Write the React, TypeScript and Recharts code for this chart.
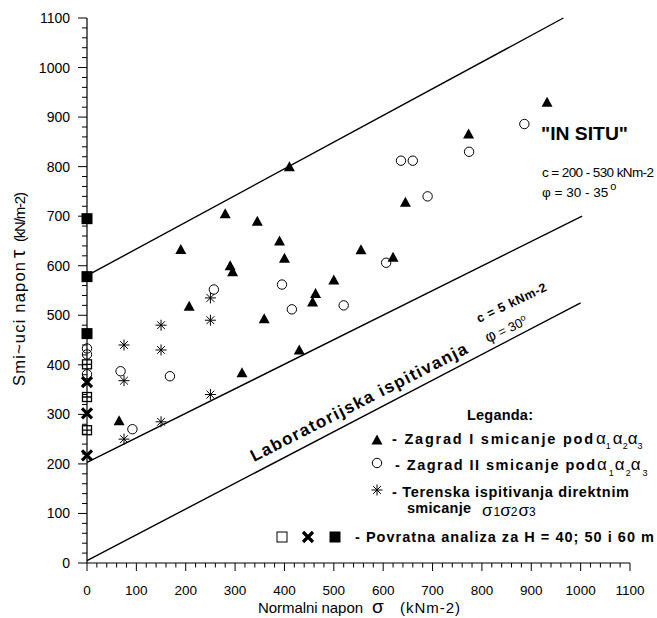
import React from 'react';
import { ScatterChart, Scatter, XAxis, YAxis, ReferenceLine } from 'recharts';

const MAJOR_TICKS = [0, 100, 200, 300, 400, 500, 600, 700, 800, 900, 1000, 1100];
const MINOR_STEPS = [0, 20, 40, 60, 80];
const ALL_TICKS = MAJOR_TICKS.flatMap((t, i) =>
  i < MAJOR_TICKS.length - 1 ? MINOR_STEPS.map((s) => t + s) : [t]
);

// Zagrad I (triangles)
const ZAGRAD_I = [
  { x: 65, y: 287 }, { x: 190, y: 633 }, { x: 207, y: 518 }, { x: 280, y: 705 },
  { x: 290, y: 600 }, { x: 295, y: 588 }, { x: 314, y: 384 }, { x: 345, y: 690 },
  { x: 359, y: 493 }, { x: 390, y: 650 }, { x: 400, y: 615 }, { x: 410, y: 800 },
  { x: 430, y: 430 }, { x: 457, y: 527 }, { x: 463, y: 544 }, { x: 500, y: 571 },
  { x: 555, y: 632 }, { x: 620, y: 617 }, { x: 645, y: 728 }, { x: 773, y: 866 },
  { x: 932, y: 930 },
];

// Zagrad II (circles)
const ZAGRAD_II = [
  { x: 0, y: 433 }, { x: 0, y: 421 }, { x: 0, y: 381 }, { x: 68, y: 387 },
  { x: 92, y: 270 }, { x: 168, y: 377 }, { x: 257, y: 552 }, { x: 395, y: 562 },
  { x: 415, y: 512 }, { x: 520, y: 520 }, { x: 606, y: 606 }, { x: 636, y: 812 },
  { x: 660, y: 812 }, { x: 690, y: 740 }, { x: 774, y: 830 }, { x: 886, y: 886 },
];

// Terenska ispitivanja (asterisks)
const TERENSKA = [
  { x: 75, y: 250 }, { x: 75, y: 368 }, { x: 75, y: 440 }, { x: 150, y: 285 },
  { x: 150, y: 430 }, { x: 150, y: 480 }, { x: 250, y: 340 }, { x: 250, y: 490 },
  { x: 250, y: 535 },
];

// Povratna analiza H = 40 / 50 / 60 m
const POVRATNA_40 = [{ x: 0, y: 268 }, { x: 0, y: 335 }, { x: 0, y: 401 }];
const POVRATNA_50 = [{ x: 0, y: 217 }, { x: 0, y: 302 }, { x: 0, y: 365 }];
const POVRATNA_60 = [{ x: 0, y: 463 }, { x: 0, y: 578 }, { x: 0, y: 695 }];

// Envelope lines
const IN_SITU_UPPER = [{ x: 0, y: 580 }, { x: 965, y: 1100 }];
const IN_SITU_LOWER = [{ x: 0, y: 203 }, { x: 1003, y: 700 }];
const LAB_LINE = [{ x: 0, y: 5 }, { x: 1000, y: 525 }];

const FONT = '"Liberation Sans", Arial, Helvetica, sans-serif';

// chart frame (must match ScatterChart size / margins / axis sizes below)
const W = 657;
const H = 618;
const MARGIN = { top: 18, right: 27, bottom: 0, left: 0 };
const Y_AXIS_W = 87;
const X_AXIS_H = 55;
const PLOT_L = MARGIN.left + Y_AXIS_W;
const PLOT_R = W - MARGIN.right;
const PLOT_T = MARGIN.top;
const PLOT_B = H - MARGIN.bottom - X_AXIS_H;
const DOMAIN_MAX = 1100;
const sx = (v: number) => PLOT_L + (v / DOMAIN_MAX) * (PLOT_R - PLOT_L);
const sy = (v: number) => PLOT_B - (v / DOMAIN_MAX) * (PLOT_B - PLOT_T);

const Triangle = ({ cx, cy }: any) => (
  <polygon points={`${cx},${cy - 5.5} ${cx - 5.5},${cy + 4.5} ${cx + 5.5},${cy + 4.5}`} fill="#000" />
);
const Circ = ({ cx, cy }: any) => (
  <circle cx={cx} cy={cy} r={4.7} fill="none" stroke="#000" strokeWidth={1} />
);
const Star = ({ cx, cy }: any) => {
  const r = 5.5;
  const d = r * 0.7071;
  return (
    <path
      d={`M${cx},${cy - r}L${cx},${cy + r}M${cx - r},${cy}L${cx + r},${cy}M${cx - d},${cy - d}L${cx + d},${cy + d}M${cx - d},${cy + d}L${cx + d},${cy - d}`}
      stroke="#000"
      strokeWidth={1}
      fill="none"
    />
  );
};
const CrossSquare = ({ cx, cy }: any) => (
  <g>
    <rect x={cx - 4.5} y={cy - 4.5} width={9} height={9} fill="#fff" stroke="#000" strokeWidth={1.3} />
    <path d={`M${cx - 4.5},${cy}L${cx + 4.5},${cy}M${cx},${cy - 4.5}L${cx},${cy + 4.5}`} stroke="#000" strokeWidth={1.3} />
  </g>
);
const XMark = ({ cx, cy }: any) => (
  <path
    d={`M${cx - 5},${cy - 5}L${cx + 5},${cy + 5}M${cx - 5},${cy + 5}L${cx + 5},${cy - 5}`}
    stroke="#000"
    strokeWidth={3.2}
    fill="none"
  />
);
const FilledSquare = ({ cx, cy }: any) => (
  <rect x={cx - 5.5} y={cy - 5.5} width={11} height={11} fill="#000" />
);

const XTick = (props: any) => {
  const { x, y, payload } = props;
  const v = payload.value;
  if (v % 100 !== 0) return <g />;
  return (
    <text x={x} y={y + 32} textAnchor="middle" fontSize={13.5} fontFamily={FONT} fill="#000">
      {v}
    </text>
  );
};

const YTick = (props: any) => {
  const { x, y, payload } = props;
  const v = payload.value;
  if (v % 100 !== 0) return <g />;
  return (
    <text x={x - 17} y={y + 5} textAnchor="end" fontSize={14} fontFamily={FONT} fill="#000">
      {v}
    </text>
  );
};

const TickMarks = () => {
  const d = ALL_TICKS.map((v) => {
    const major = v % 100 === 0;
    const px = sx(v);
    const py = sy(v);
    return `M${px},${PLOT_B}L${px},${PLOT_B + (major ? 8 : 4.5)}M${PLOT_L - (major ? 9 : 5)},${py}L${PLOT_L},${py}`;
  }).join('');
  return <path d={d} stroke="#000" strokeWidth={1} fill="none" />;
};

const Overlay = () => (
  <svg
    width={W}
    height={H}
    style={{ position: 'absolute', left: 0, top: 0, pointerEvents: 'none' }}
    fontFamily={FONT}
    fill="#000"
  >
    <TickMarks />
    {/* Y axis title */}
    <g transform="translate(25,386) rotate(-90)">
      <text x={0} y={0} fontSize={16.5} textLength={124} lengthAdjust="spacing">Smi~uci napon</text>
      <text x={128} y={0} fontSize={21}>τ</text>
      <text x={144} y={0} fontSize={15} textLength={50} lengthAdjust="spacing">(kN/m-2)</text>
    </g>
    {/* X axis title */}
    <text x={258} y={613} fontSize={15} textLength={105} lengthAdjust="spacing">Normalni napon</text>
    <text x={372} y={613} fontSize={19}>σ</text>
    <text x={400} y={613} fontSize={15} textLength={60} lengthAdjust="spacing">(kNm-2)</text>

    {/* IN SITU annotation */}
    <text x={541} y={139.5} fontSize={18} fontWeight="bold" textLength={87} lengthAdjust="spacingAndGlyphs">"IN SITU"</text>
    <text x={542} y={176.5} fontSize={13.5} textLength={112} lengthAdjust="spacing">c = 200 - 530 kNm-2</text>
    <text x={542} y={197} fontSize={13.5}>
      φ = 30 - 35<tspan dy={-7} dx={2} fontSize={11}>o</tspan>
    </text>

    {/* Laboratory annotation */}
    <text transform="translate(254,462) rotate(-27)" fontSize={17} fontWeight="bold" textLength={241} lengthAdjust="spacing">
      Laboratorijska   ispitivanja
    </text>
    <text transform="translate(479,323) rotate(-25.5)" fontSize={12.5} fontWeight="bold" textLength={76} lengthAdjust="spacing">
      c = 5 kNm-2
    </text>
    <text transform="translate(488,343) rotate(-25.5)" fontSize={13}>
      <tspan fontSize={16}>φ</tspan> = 30<tspan dy={-5} fontSize={9}>o</tspan>
    </text>

    {/* Legend */}
    <text x={467} y={420} fontSize={14.5} fontWeight="bold" textLength={66} lengthAdjust="spacing">Leganda:</text>

    <Triangle cx={377} cy={440} />
    <text x={392} y={444} fontSize={14.5} fontWeight="bold" textLength={201} lengthAdjust="spacing">- Zagrad I smicanje pod</text>
    <text x={596} y={444} fontSize={17}>
      α<tspan fontSize={9} dy={5}>1</tspan>
      <tspan dy={-5} dx={2}>α</tspan>
      <tspan fontSize={9} dy={5}>2</tspan>
      <tspan dy={-5}>α</tspan>
      <tspan fontSize={9} dy={5}>3</tspan>
    </text>

    <Circ cx={377} cy={463} />
    <text x={395} y={470} fontSize={14.5} fontWeight="bold" textLength={200} lengthAdjust="spacing">- Zagrad II smicanje pod</text>
    <text x={597} y={470} fontSize={17}>
      α<tspan fontSize={9} dy={6} dx={2}>1</tspan>
      <tspan dy={-6} dx={1}>α</tspan>
      <tspan fontSize={9} dy={6} dx={1}>2</tspan>
      <tspan dy={-6}>α</tspan>
      <tspan fontSize={9} dy={6} dx={2}>3</tspan>
    </text>

    <Star cx={377} cy={490} />
    <text x={392} y={497} fontSize={14.5} fontWeight="bold" textLength={237} lengthAdjust="spacing">- Terenska ispitivanja direktnim</text>
    <text x={407} y={513} fontSize={14.5} fontWeight="bold" textLength={64} lengthAdjust="spacing">smicanje</text>
    <text x={482} y={516} fontSize={17}>
      σ<tspan fontSize={12} dx={1}>1</tspan>
      <tspan>σ</tspan>
      <tspan fontSize={12}>2</tspan>
      <tspan dx={1}>σ</tspan>
      <tspan fontSize={12}>3</tspan>
    </text>

    <rect x={277} y={532} width={10} height={10} fill="#fff" stroke="#000" strokeWidth={1} />
    <XMark cx={308} cy={537} />
    <FilledSquare cx={335} cy={537} />
    <text x={355} y={542} fontSize={14.5} fontWeight="bold" textLength={299} lengthAdjust="spacing">- Povratna analiza za H = 40; 50 i 60 m</text>
  </svg>
);

export default function App() {
  return (
    <div style={{ position: 'absolute', left: 0, top: 0, width: W, height: H, background: '#fff' }}>
      <ScatterChart width={W} height={H} margin={MARGIN}>
        <XAxis
          type="number"
          dataKey="x"
          domain={[0, DOMAIN_MAX]}
          ticks={ALL_TICKS}
          interval={0}
          tickSize={0}
          tickMargin={0}
          tickLine={false}
          tick={(p: any) => <XTick {...p} />}
          axisLine={{ stroke: '#000', strokeWidth: 1.2 }}
          height={X_AXIS_H}
        />
        <YAxis
          type="number"
          dataKey="y"
          domain={[0, DOMAIN_MAX]}
          ticks={ALL_TICKS}
          interval={0}
          tickSize={0}
          tickMargin={0}
          tickLine={false}
          tick={(p: any) => <YTick {...p} />}
          axisLine={{ stroke: '#000', strokeWidth: 1.2 }}
          width={Y_AXIS_W}
        />
        <ReferenceLine segment={IN_SITU_UPPER} stroke="#000" strokeWidth={1.4} />
        <ReferenceLine segment={IN_SITU_LOWER} stroke="#000" strokeWidth={1.4} />
        <ReferenceLine segment={LAB_LINE} stroke="#000" strokeWidth={1.4} />
        <Scatter data={ZAGRAD_II} shape={(p: any) => <Circ cx={p.cx} cy={p.cy} />} isAnimationActive={false} />
        <Scatter data={ZAGRAD_I} shape={(p: any) => <Triangle cx={p.cx} cy={p.cy} />} isAnimationActive={false} />
        <Scatter data={TERENSKA} shape={(p: any) => <Star cx={p.cx} cy={p.cy} />} isAnimationActive={false} />
        <Scatter data={POVRATNA_40} shape={(p: any) => <CrossSquare cx={p.cx} cy={p.cy} />} isAnimationActive={false} />
        <Scatter data={POVRATNA_50} shape={(p: any) => <XMark cx={p.cx} cy={p.cy} />} isAnimationActive={false} />
        <Scatter data={POVRATNA_60} shape={(p: any) => <FilledSquare cx={p.cx} cy={p.cy} />} isAnimationActive={false} />
      </ScatterChart>
      <Overlay />
    </div>
  );
}
